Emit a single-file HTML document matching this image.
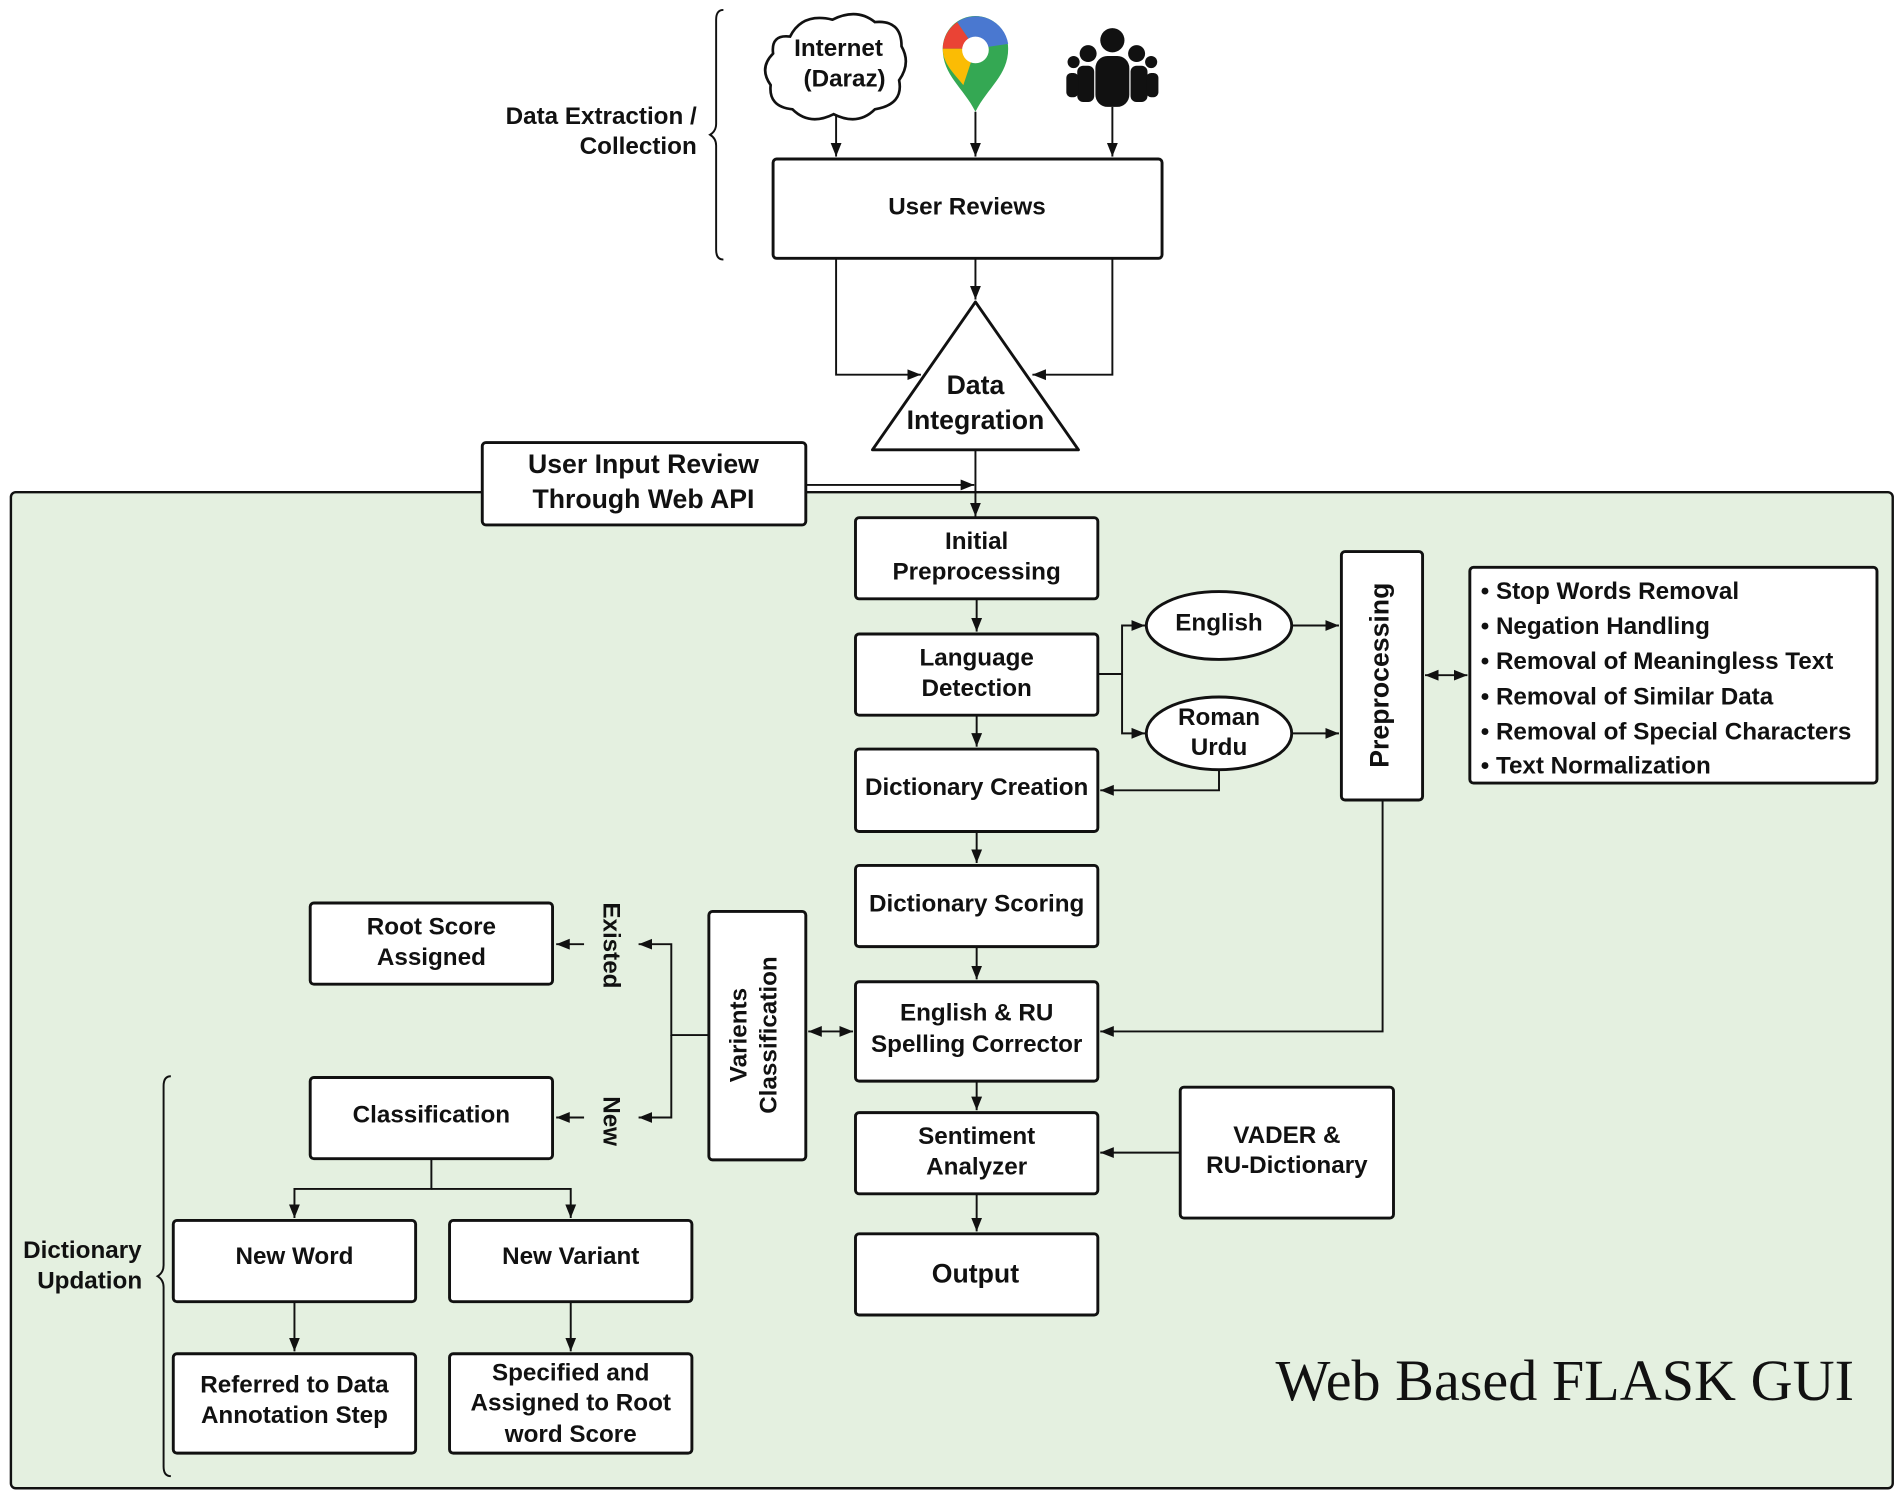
<!DOCTYPE html>
<html><head><meta charset="utf-8"><style>
html,body{margin:0;padding:0;background:#fff}
svg{display:block}
text{font-family:"Liberation Sans",sans-serif;font-weight:bold;fill:#111}
</style></head><body>
<svg width="1900" height="1497" viewBox="0 0 1568 1235" xmlns="http://www.w3.org/2000/svg">
<defs>
<marker id="a" viewBox="0 0 10 10" refX="10" refY="5" markerWidth="7" markerHeight="7" orient="auto-start-reverse"><path d="M0,1 L10,5 L0,9 z" fill="#111"/></marker>
</defs>
<g stroke="#111" stroke-width="1.6" fill="none">
<rect x="9" y="406" width="1553" height="822" rx="4" fill="#e4f0e0" stroke-width="2"/>
<path d="M597,8 q-6,0 -6,8 v86 q0,6 -5,9 q5,3 5,9 v86 q0,8 6,8"/>
<path d="M141,888 q-6,0 -6,8 v148 q0,6 -5,9 q5,3 5,9 v148 q0,8 6,8"/>
<path d="M690,92 V129" marker-end="url(#a)"/>
<path d="M805,92 V129" marker-end="url(#a)"/>
<path d="M918,88 V129" marker-end="url(#a)"/>
<path d="M690,213 V309 H760" marker-end="url(#a)"/>
<path d="M918,213 V309 H852" marker-end="url(#a)"/>
<path d="M805,213 V247" marker-end="url(#a)"/>
<path d="M805,371 V426" marker-end="url(#a)"/>
<path d="M665,400 H804" marker-end="url(#a)"/>
<path d="M806,494 V521" marker-end="url(#a)"/>
<path d="M806,590 V616" marker-end="url(#a)"/>
<path d="M806,686 V712" marker-end="url(#a)"/>
<path d="M806,781 V808" marker-end="url(#a)"/>
<path d="M806,892 V916" marker-end="url(#a)"/>
<path d="M806,985 V1016" marker-end="url(#a)"/>
<path d="M906,556 H926 V516 H945" marker-end="url(#a)"/>
<path d="M926,556 V605 H945" marker-end="url(#a)"/>
<path d="M1066,516 H1105" marker-end="url(#a)"/>
<path d="M1066,605 H1105" marker-end="url(#a)"/>
<path d="M1006,634 V652 H908" marker-end="url(#a)"/>
<path d="M1176,557 H1211" marker-start="url(#a)" marker-end="url(#a)"/>
<path d="M1141,660 V851 H908" marker-end="url(#a)"/>
<path d="M667,851 H704" marker-start="url(#a)" marker-end="url(#a)"/>
<path d="M585,854 H554 V779 H527" marker-end="url(#a)"/>
<path d="M554,854 V922 H527" marker-end="url(#a)"/>
<path d="M482,779 H459" marker-end="url(#a)"/>
<path d="M482,922 H459" marker-end="url(#a)"/>
<path d="M356,956 V981 H243 V1005" marker-end="url(#a)"/>
<path d="M356,981 H471 V1005" marker-end="url(#a)"/>
<path d="M243,1074 V1115" marker-end="url(#a)"/>
<path d="M471,1074 V1115" marker-end="url(#a)"/>
<path d="M974,951 H908" marker-end="url(#a)"/>
</g>
<g stroke="#111" stroke-width="2.4" fill="#fff">
<rect x="638" y="131" width="321" height="82" rx="3"/>
<path d="M805,249 L890,371 L720,371 Z" stroke-linejoin="round"/>
<rect x="398" y="365" width="267" height="68" rx="3"/>
<rect x="706" y="427" width="200" height="67" rx="3"/>
<rect x="706" y="523" width="200" height="67" rx="3"/>
<rect x="706" y="618" width="200" height="68" rx="3"/>
<rect x="706" y="714" width="200" height="67" rx="3"/>
<rect x="706" y="810" width="200" height="82" rx="3"/>
<rect x="706" y="918" width="200" height="67" rx="3"/>
<rect x="706" y="1018" width="200" height="67" rx="3"/>
<ellipse cx="1006" cy="516" rx="60" ry="28"/>
<ellipse cx="1006" cy="605" rx="60" ry="30"/>
<rect x="1107" y="455" width="67" height="205" rx="3"/>
<rect x="1213" y="468" width="336" height="178" rx="3"/>
<rect x="585" y="752" width="80" height="205" rx="3"/>
<rect x="256" y="745" width="200" height="67" rx="3"/>
<rect x="256" y="889" width="200" height="67" rx="3"/>
<rect x="143" y="1007" width="200" height="67" rx="3"/>
<rect x="371" y="1007" width="200" height="67" rx="3"/>
<rect x="143" y="1117" width="200" height="82" rx="3"/>
<rect x="371" y="1117" width="200" height="82" rx="3"/>
<rect x="974" y="897" width="176" height="108" rx="3"/>
<path d="M652,30 q10,-20 35,-14 q20,-10 35,2 q22,-2 22,20 q8,14 -2,28 q4,20 -20,24 q-14,14 -34,4 q-20,10 -34,-4 q-20,-2 -18,-20 q-10,-14 2,-26 q-2,-16 14,-14z" stroke-width="2.2"/>
</g>
<g>
<path d="M805,92 C795,72 778,62 778,40 A27,27 0 0 1 832,40 C832,62 815,72 805,92Z" fill="#34a853"/>
<path d="M778,40 A27,27 0 0 1 790,18 L805,40 Z" fill="#ea4335"/>
<path d="M790,18 A27,27 0 0 1 832,36 L805,40 Z" fill="#4a78d0"/>
<path d="M778,40 L805,40 L795,70 C787,60 778,52 778,40Z" fill="#fbbc04"/>
<circle cx="805" cy="41" r="11" fill="#fff"/>
</g>
<g fill="#111">
<circle cx="918" cy="33" r="10"/>
<rect x="904" y="46" width="28" height="42" rx="10"/>
<circle cx="898" cy="44" r="7"/><circle cx="938" cy="44" r="7"/>
<rect x="889" y="54" width="14" height="30" rx="5"/><rect x="933" y="54" width="14" height="30" rx="5"/>
<circle cx="886" cy="51" r="5"/><circle cx="950" cy="51" r="5"/>
<rect x="880" y="60" width="10" height="20" rx="4"/><rect x="946" y="60" width="10" height="20" rx="4"/>
</g>
<g font-size="20">
<text x="575" y="102" text-anchor="end">Data Extraction /</text>
<text x="575" y="127" text-anchor="end">Collection</text>
<text x="692" y="46" text-anchor="middle">Internet</text>
<text x="697" y="71" text-anchor="middle">(Daraz)</text>
<text x="798" y="177" text-anchor="middle">User Reviews</text>
</g>
<g font-size="22" text-anchor="middle">
<text x="805" y="325">Data</text>
<text x="805" y="354">Integration</text>
<text x="531" y="390">User Input Review</text>
<text x="531" y="419">Through Web API</text>
<text x="805" y="1058">Output</text>
</g>
<g font-size="20" text-anchor="middle">
<text x="806" y="453">Initial</text><text x="806" y="478">Preprocessing</text>
<text x="806" y="549">Language</text><text x="806" y="574">Detection</text>
<text x="806" y="656">Dictionary Creation</text>
<text x="806" y="752">Dictionary Scoring</text>
<text x="806" y="842">English &amp; RU</text><text x="806" y="868">Spelling Corrector</text>
<text x="806" y="944">Sentiment</text><text x="806" y="969">Analyzer</text>
<text x="1006" y="520">English</text>
<text x="1006" y="598">Roman</text><text x="1006" y="623">Urdu</text>
<text x="356" y="771">Root Score</text><text x="356" y="796">Assigned</text>
<text x="356" y="926">Classification</text>
<text x="243" y="1043">New Word</text>
<text x="471" y="1043">New Variant</text>
<text x="243" y="1149">Referred to Data</text><text x="243" y="1174">Annotation Step</text>
<text x="471" y="1139">Specified and</text><text x="471" y="1164">Assigned to Root</text><text x="471" y="1190">word Score</text>
<text x="1062" y="943">VADER &amp;</text><text x="1062" y="968">RU-Dictionary</text>
<text x="68" y="1038">Dictionary</text><text x="74" y="1063">Updation</text>
<text transform="translate(1146,557) rotate(-90)" font-size="22">Preprocessing</text>
<text transform="translate(616,854) rotate(-90)">Varients</text>
<text transform="translate(641,854) rotate(-90)">Classification</text>
<text transform="translate(498,780) rotate(90)">Existed</text>
<text transform="translate(498,925) rotate(90)">New</text>
</g>
<g font-size="20">
<text x="1222" y="494">• Stop Words Removal</text>
<text x="1222" y="523">• Negation Handling</text>
<text x="1222" y="552">• Removal of Meaningless Text</text>
<text x="1222" y="581">• Removal of Similar Data</text>
<text x="1222" y="610">• Removal of Special Characters</text>
<text x="1222" y="638">• Text Normalization</text>
</g>
<text x="1530" y="1155" text-anchor="end" style="font-family:'Liberation Serif',serif;font-weight:normal;font-size:48px">Web Based FLASK GUI</text>
</svg>
</body></html>
